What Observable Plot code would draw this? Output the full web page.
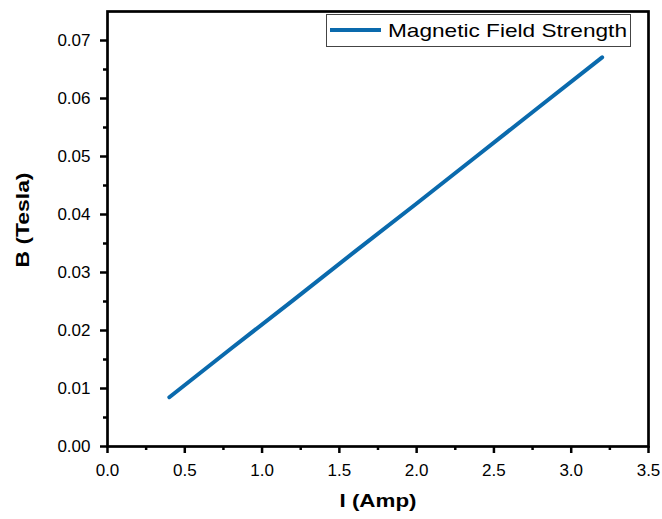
<!DOCTYPE html>
<html><head><meta charset="utf-8">
<script src="https://cdn.jsdelivr.net/npm/d3@7"></script>
<script src="https://cdn.jsdelivr.net/npm/@observablehq/plot@0.6"></script>
<style>
body{margin:0;background:#fff}
#chart{position:relative;width:662px;height:519px}
#legend{position:absolute;left:326px;top:14px}
</style>
</head><body><div id="chart"></div>
<script>
const current = [0.4, 0.8, 1.2, 1.6, 2.0, 2.4, 2.8, 3.2];
const field = [0.0085, 0.0169, 0.0252, 0.0336, 0.0419, 0.0503, 0.0587, 0.0671];
const xTicks = [0, 0.5, 1, 1.5, 2, 2.5, 3, 3.5];
const xMinor = [0.25, 0.75, 1.25, 1.75, 2.25, 2.75, 3.25];
const yTicks = [0, 0.01, 0.02, 0.03, 0.04, 0.05, 0.06, 0.07];
const yMinor = [0.005, 0.015, 0.025, 0.035, 0.045, 0.055, 0.065];
const seriesName = "Magnetic Field Strength";
const xTitle = "I (Amp)";
const yTitle = "B (Tesla)";
const lineColor = "#0a6aad";

const data = current.map((I, i) => ({I, B: field[i]}));

const chart = Plot.plot({
  width: 662, height: 519,
  marginLeft: 107, marginRight: 14, marginTop: 11, marginBottom: 73,
  style: {fontFamily: "'Liberation Sans', Arial, sans-serif", fontSize: "17px", color: "#000", background: "#fff"},
  x: {domain: [0, 3.5]},
  y: {domain: [0, 0.075]},
  marks: [
    Plot.axisX({ticks: xMinor, tickSize: 4, stroke: "#000", strokeWidth: 2.5, strokeOpacity: 1, tickFormat: () => "", label: null}),
    Plot.axisY({ticks: yMinor, tickSize: 4, stroke: "#000", strokeWidth: 2.5, strokeOpacity: 1, tickFormat: () => "", label: null}),
    Plot.axisX({ticks: xTicks, tickSize: 7, tickPadding: 10, stroke: "#000", strokeWidth: 2.5, strokeOpacity: 1, tickFormat: d3.format(".1f"),
      label: xTitle, labelAnchor: "center", labelOffset: 60, labelArrow: "none"}),
    Plot.axisY({ticks: yTicks, tickSize: 7, tickPadding: 10, stroke: "#000", strokeWidth: 2.5, strokeOpacity: 1, tickFormat: d3.format(".2f"),
      label: yTitle, labelAnchor: "center", labelOffset: 92, labelArrow: "none"}),
    Plot.line(data, {x: "I", y: "B", stroke: lineColor, strokeWidth: 4}),
    Plot.frame({stroke: "#000", strokeWidth: 2.7})
  ]
});
document.getElementById("chart").appendChild(chart);

// style axis titles
d3.select(chart).selectAll('g[aria-label="x-axis label"] text, g[aria-label="y-axis label"] text')
  .attr("font-weight", "bold").attr("font-size", "19px")
  .attr("textLength", function() { return this.parentNode.getAttribute("aria-label").startsWith("x") ? 77 : 95; })
  .attr("lengthAdjust", "spacingAndGlyphs");
d3.select(chart).select('g[aria-label="y-axis label"]')
  .attr("transform", function() { return "translate(0,-9) " + (this.getAttribute("transform") || ""); });

// legend
const leg = d3.select("#chart").append("svg").attr("id", "legend").attr("width", 306).attr("height", 34);
leg.append("rect").attr("x", 0.5).attr("y", 0.5).attr("width", 304).attr("height", 32)
  .attr("fill", "#fff").attr("stroke", "#444").attr("stroke-width", 1);
leg.append("line").attr("x1", 4).attr("x2", 55).attr("y1", 16).attr("y2", 16)
  .attr("stroke", lineColor).attr("stroke-width", 4);
leg.append("text").attr("x", 62).attr("y", 23).text(seriesName)
  .attr("font-family", "'Liberation Sans', Arial, sans-serif").attr("font-size", "19px")
  .attr("textLength", 239).attr("lengthAdjust", "spacingAndGlyphs");
</script>
</body></html>
